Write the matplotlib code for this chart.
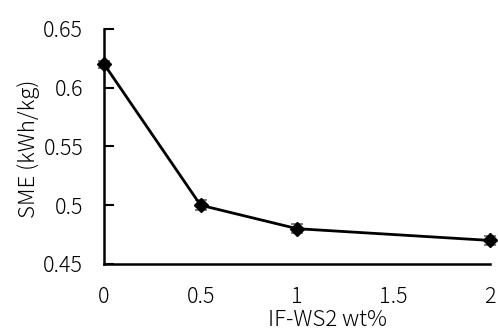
import numpy as np
import matplotlib
matplotlib.use("Agg")
from matplotlib import pyplot as plt

wt = [0, 0.5, 1, 2]
sme = [0.62, 0.50, 0.48, 0.47]
err = [0.003, 0.004, 0.004, 0.004]

plt.rcParams['font.family'] = ['Noto Sans CJK JP', 'DejaVu Sans']
plt.rcParams['font.weight'] = 'light'

fig = plt.figure(figsize=(4.98, 3.32), dpi=100)
ax = fig.add_axes([0.209, 0.205, 0.775, 0.708])

ax.errorbar(wt, sme, yerr=err, color='black', marker='D', markersize=7,
            linewidth=2, ecolor='#666666', elinewidth=1.2, capsize=4,
            capthick=1.2, clip_on=False, zorder=3)

ax.set_xlim(0, 2)
ax.set_ylim(0.45, 0.65)
ax.set_xticks([0, 0.5, 1, 1.5, 2])
ax.set_xticklabels(['0', '0.5', '1', '1.5', '2'])
ax.set_yticks([0.45, 0.5, 0.55, 0.6, 0.65])
ax.set_yticklabels(['0.45', '0.5', '0.55', '0.6', '0.65'])

for s in ['top', 'right']:
    ax.spines[s].set_visible(False)
for s in ['left', 'bottom']:
    ax.spines[s].set_linewidth(1.8)

ax.tick_params(axis='y', direction='in', length=7, width=1.5, labelsize=15.5, pad=15)
ax.tick_params(axis='x', length=0, labelsize=15.5, pad=16)

# axis titles placed by baseline (figure coords from bottom-left)
fig.text(35 / 498, 183 / 332, 'SME (kWh/kg)', fontsize=16, rotation=90,
         rotation_mode='anchor', ha='center', va='baseline')
fig.text(328 / 498, 6 / 332, 'IF-WS2 wt%', fontsize=16, ha='center', va='baseline')

fig.savefig('out.png', dpi=100)
